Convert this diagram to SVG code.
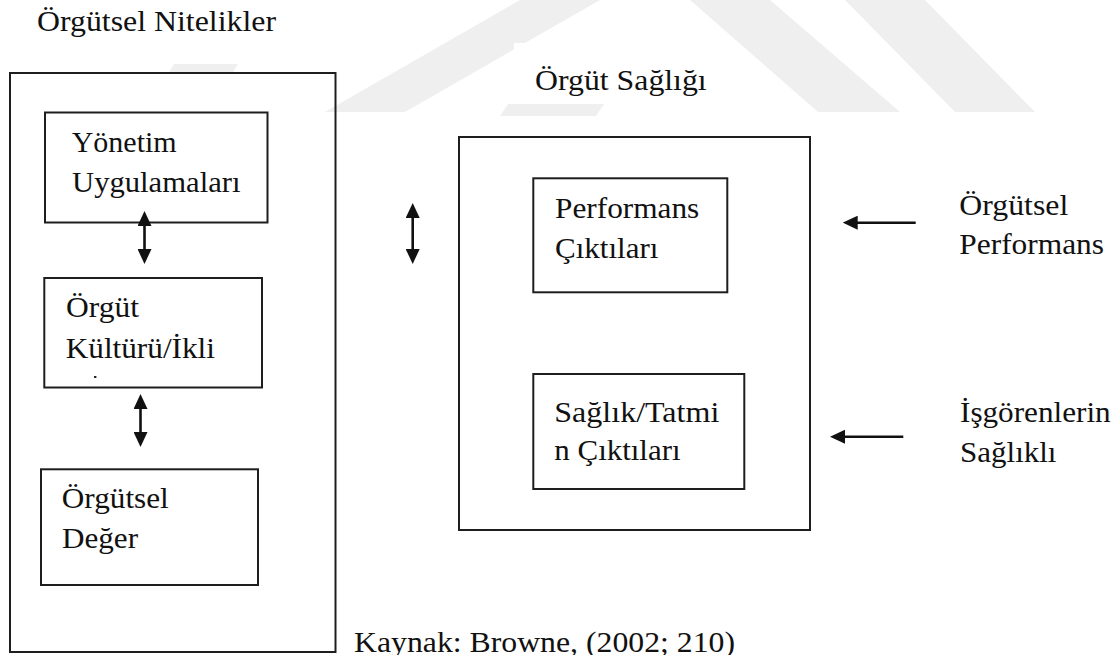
<svg xmlns="http://www.w3.org/2000/svg" width="1120" height="655" viewBox="0 0 1120 655">
  <style>
    text { font-family: "Liberation Serif", "Times New Roman", serif; font-size: 29.5px; fill: #111; }
    .box { fill: none; stroke: #1e1e1e; stroke-width: 2; }
    .wm { fill: #efefef; }
    .link { stroke: #111; stroke-width: 2.6; fill: none; }
  </style>
  <defs>
    <marker id="ah" viewBox="0 0 15 14" refX="5" refY="7" markerWidth="15" markerHeight="14" markerUnits="userSpaceOnUse" orient="auto-start-reverse">
      <path d="M0,0 L15,7 L0,14 Z" fill="#111"/>
    </marker>
  </defs>

  <rect width="1120" height="655" fill="#fff"/>

  <!-- faint background watermark bands -->
  <g id="watermark">
    <polygon class="wm" points="325,112 405,112 600,0 520,0"/>
    <polygon class="wm" points="168,74 232,74 238,64 174,64"/>
    <polygon class="wm" points="690,0 770,0 900,112 818,112"/>
    <polygon class="wm" points="845,0 925,0 1035,112 955,112"/>
    <rect x="514" y="43" width="206" height="61" fill="#fff"/>
    <polygon class="wm" points="500,116 596,116 604,104 508,104"/>
  </g>

  <!-- left column: organisational characteristics -->
  <g id="orgutsel-nitelikler">
    <text x="37" y="30.5" textLength="239" lengthAdjust="spacingAndGlyphs">Örgütsel Nitelikler</text>
    <rect class="box" x="10" y="73" width="325.5" height="579"/>
  </g>

  <g id="yonetim-uygulamalari">
    <rect class="box" x="45" y="112.5" width="222.5" height="110"/>
    <text x="71.7" y="151.7" textLength="105" lengthAdjust="spacingAndGlyphs">Yönetim</text>
    <text x="72" y="191.7" textLength="168.5" lengthAdjust="spacingAndGlyphs">Uygulamaları</text>
  </g>

  <g id="orgut-kulturu">
    <rect class="box" x="44.3" y="278" width="217.7" height="109.5"/>
    <text x="66" y="317.3" textLength="73" lengthAdjust="spacingAndGlyphs">Örgüt</text>
    <text x="65.7" y="358.3" textLength="149.3" lengthAdjust="spacingAndGlyphs">Kültürü/İkli</text>
    <rect x="94" y="376" width="2.4" height="2" fill="#222"/>
  </g>

  <g id="orgutsel-deger">
    <rect class="box" x="41" y="469.3" width="217" height="115.7"/>
    <text x="61.8" y="508.3" textLength="107" lengthAdjust="spacingAndGlyphs">Örgütsel</text>
    <text x="62" y="548.3" textLength="76" lengthAdjust="spacingAndGlyphs">Değer</text>
  </g>

  <!-- right column: organisational health -->
  <g id="orgut-sagligi">
    <text x="535" y="90" textLength="171.7" lengthAdjust="spacingAndGlyphs">Örgüt Sağlığı</text>
    <rect class="box" x="459" y="137" width="351" height="393"/>
  </g>

  <g id="performans-ciktilari">
    <rect class="box" x="533.3" y="178.3" width="194" height="114"/>
    <text x="555" y="218.3" textLength="144.3" lengthAdjust="spacingAndGlyphs">Performans</text>
    <text x="555" y="257.7" textLength="103.4" lengthAdjust="spacingAndGlyphs">Çıktıları</text>
  </g>

  <g id="saglik-tatmin-ciktilari">
    <rect class="box" x="533.3" y="374" width="211" height="115"/>
    <text x="554.3" y="421.7" textLength="165" lengthAdjust="spacingAndGlyphs">Sağlık/Tatmi</text>
    <text x="554.3" y="460" textLength="126.3" lengthAdjust="spacingAndGlyphs">n Çıktıları</text>
  </g>

  <g id="orgutsel-performans">
    <text x="959.3" y="215" textLength="109" lengthAdjust="spacingAndGlyphs">Örgütsel</text>
    <text x="959.3" y="254" textLength="144.7" lengthAdjust="spacingAndGlyphs">Performans</text>
  </g>

  <g id="isgorenlerin-sagligi">
    <text x="960" y="421.7" textLength="150.7" lengthAdjust="spacingAndGlyphs">İşgörenlerin</text>
    <text x="960" y="461.7" textLength="96.5" lengthAdjust="spacingAndGlyphs">Sağlıklı</text>
  </g>

  <g id="kaynak">
    <text x="354" y="652" textLength="381" lengthAdjust="spacingAndGlyphs">Kaynak: Browne, (2002; 210)</text>
  </g>

  <!-- connectors -->
  <g id="connectors">
    <line class="link" x1="144.5" y1="221" x2="144.5" y2="254" marker-start="url(#ah)" marker-end="url(#ah)"/>
    <line class="link" x1="140.5" y1="404" x2="140.5" y2="437" marker-start="url(#ah)" marker-end="url(#ah)"/>
    <line class="link" x1="412.7" y1="213" x2="412.7" y2="254" marker-start="url(#ah)" marker-end="url(#ah)"/>
    <line class="link" x1="915.7" y1="222.7" x2="852.7" y2="222.7" marker-end="url(#ah)"/>
    <line class="link" x1="903.3" y1="436.7" x2="840" y2="436.7" marker-end="url(#ah)"/>
  </g>
</svg>
